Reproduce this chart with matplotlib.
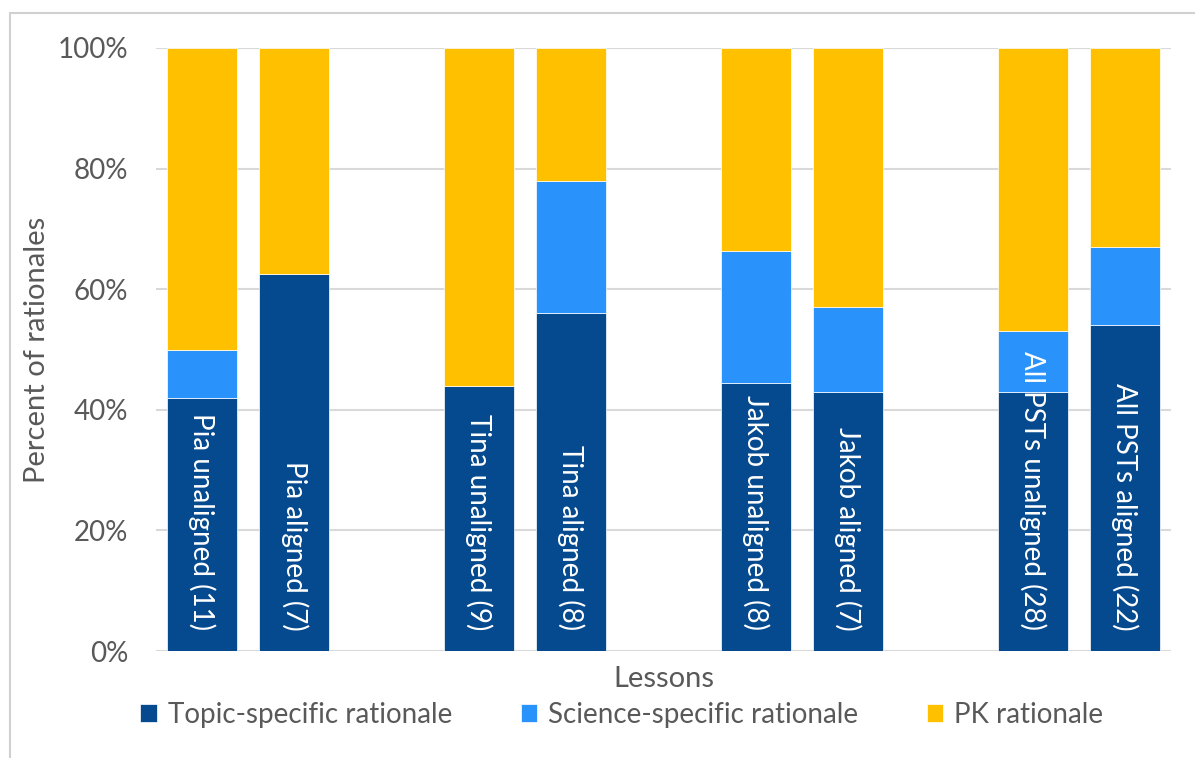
import matplotlib
matplotlib.use("Agg")
import matplotlib.pyplot as plt
from matplotlib.patches import Rectangle
import numpy as np

plt.rcParams['font.family'] = ['Lato', 'DejaVu Sans']

# Lesson labels and slot positions (empty slots separate the pre-service teachers)
lessons = ["Pia unaligned (11)", "Pia aligned (7)",
           "Tina unaligned (9)", "Tina aligned (8)",
           "Jakob unaligned (8)", "Jakob aligned (7)",
           "All PSTs unaligned (28)", "All PSTs aligned (22)"]
slots = [0, 1, 3, 4, 6, 7, 9, 10]

# Share of rationales per category (percent)
topic_specific = [42.0, 62.5, 44.0, 56.0, 44.4, 43.0, 43.0, 54.0]
science_specific = [8.0, 0.0, 0.0, 22.0, 22.0, 14.0, 10.0, 13.0]
pk = [100 - t - s for t, s in zip(topic_specific, science_specific)]

series_names = ["Topic-specific rationale", "Science-specific rationale", "PK rationale"]
colors = ["#054A8F", "#2A92FB", "#FFC000"]
text_gray = "#595959"
grid_gray = "#D9D9D9"

fig = plt.figure(figsize=(11.95, 7.58), dpi=100)
W, H = 1195, 758
ax = fig.add_axes([156 / W, (H - 651) / H, (1171 - 156) / W, (651 - 48) / H])

# Chart border (top and left edges visible)
fig.patches.append(Rectangle((10 / W, -0.1), 1.2, (H - 13) / H + 0.1,
                             transform=fig.transFigure, fill=False,
                             edgecolor="#D0D0D0", linewidth=1.5, zorder=0))

x = np.array(slots, dtype=float)
width = 0.76
bottom = np.zeros(len(x))
for vals, c in zip([topic_specific, science_specific, pk], colors):
    ax.bar(x, vals, width, bottom=bottom, color=c, edgecolor="white",
           linewidth=0.5, zorder=3)
    bottom += np.array(vals)

# Lesson names written inside the bars, reading downward
for xi, name in zip(x, lessons):
    ax.text(xi, 3.4, name, rotation=270, rotation_mode="anchor",
            ha="right", va="center", color="white", fontsize=20, zorder=4)

ax.set_xlim(-0.5, 10.5)
ax.set_ylim(0, 100)
ax.set_yticks(range(0, 101, 20))
ax.set_yticklabels([f"{v}%" for v in range(0, 101, 20)], fontsize=20, color=text_gray)
ax.tick_params(axis="y", length=0, pad=20)
ax.set_xticks([])
ax.grid(axis="y", color=grid_gray, linewidth=1.5, zorder=0)
ax.set_axisbelow(True)
for s in ax.spines.values():
    s.set_visible(False)

ax.set_ylabel("Percent of rationales", fontsize=21, color=text_gray)
ax.yaxis.set_label_coords((37 - 156) / 1015, 0.5)
ax.set_xlabel("Lessons", fontsize=21, color=text_gray)
ax.xaxis.set_label_coords(0.5, (651 - 679) / 603)
ax.xaxis.label.set_va("center")
ax.yaxis.label.set_va("center")

# Legend placed below the axis title
handles = [Rectangle((0, 0), 1, 1, facecolor=c, edgecolor="white", linewidth=0.5)
           for c in colors]
fig.legend(handles, series_names, loc="center", bbox_to_anchor=(622 / W, (H - 715) / H),
           ncol=3, frameon=False, fontsize=20, labelcolor=text_gray,
           handlelength=0.6, handleheight=0.6, handletextpad=0.4, columnspacing=2.45)

fig.savefig("out.png", dpi=100)
